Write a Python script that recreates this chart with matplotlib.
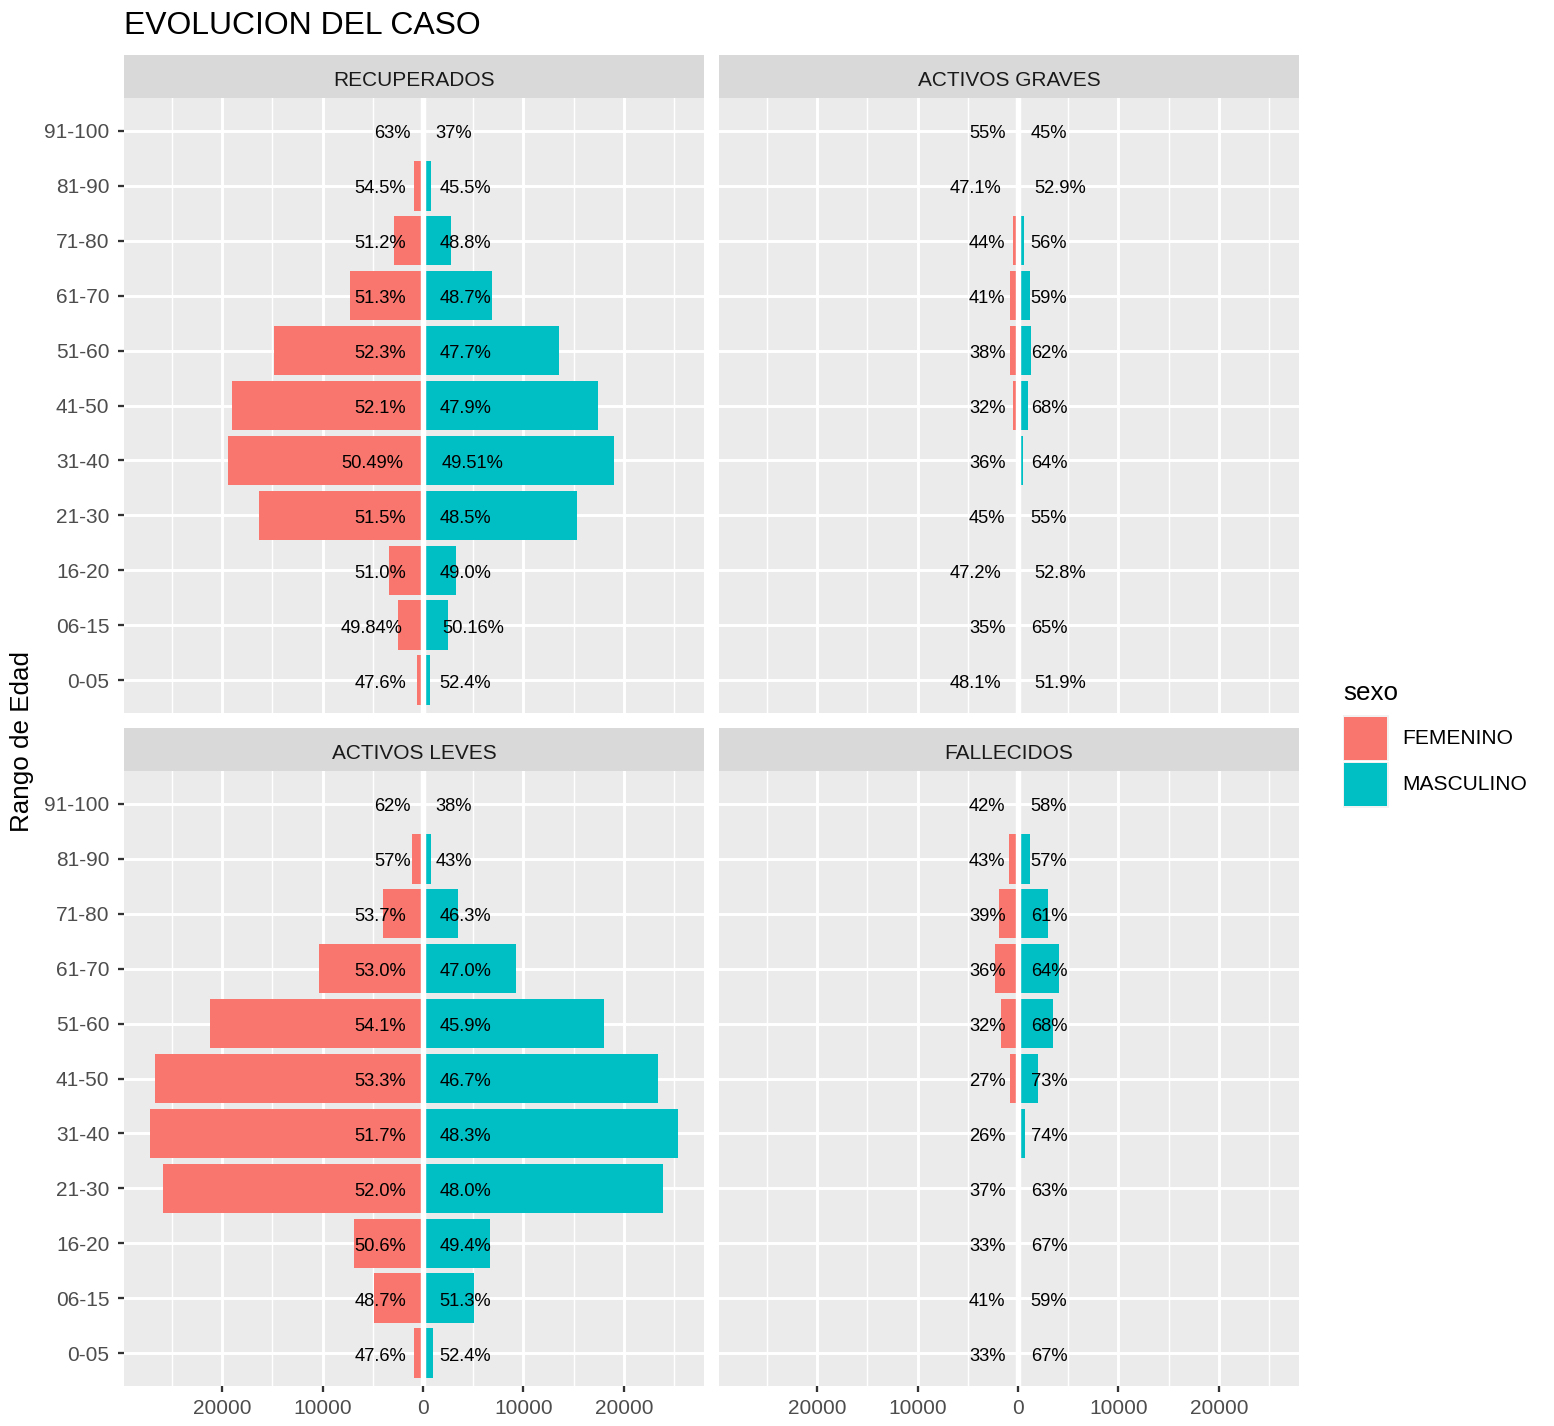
import matplotlib
matplotlib.use("Agg")
import matplotlib.pyplot as plt
from matplotlib.patches import Rectangle
from matplotlib.transforms import offset_copy

plt.rcParams['font.family'] = ['Liberation Sans', 'DejaVu Sans']

# age groups, bottom to top
edades = ["0-05", "06-15", "16-20", "21-30", "31-40", "41-50",
          "51-60", "61-70", "71-80", "81-90", "91-100"]

rec_fem = [600, 2460, 3380, 16300, 19400, 19000, 14800, 7250, 2900, 920, 100]
rec_mas = [660, 2480, 3250, 15350, 19020, 17470, 13500, 6880, 2760, 770, 59]
rec_pct_fem = ["47.6%", "49.84%", "51.0%", "51.5%", "50.49%", "52.1%", "52.3%", "51.3%", "51.2%", "54.5%", "63%"]
rec_pct_mas = ["52.4%", "50.16%", "49.0%", "48.5%", "49.51%", "47.9%", "47.7%", "48.7%", "48.8%", "45.5%", "37%"]

gra_fem = [13, 7, 25, 90, 230, 470, 800, 820, 470, 160, 22]
gra_mas = [14, 13, 28, 110, 540, 1000, 1310, 1180, 600, 180, 18]
gra_pct_fem = ["48.1%", "35%", "47.2%", "45%", "36%", "32%", "38%", "41%", "44%", "47.1%", "55%"]
gra_pct_mas = ["51.9%", "65%", "52.8%", "55%", "64%", "68%", "62%", "59%", "56%", "52.9%", "45%"]

lev_fem = [900, 4850, 6850, 25850, 27150, 26700, 21200, 10400, 4000, 1100, 160]
lev_mas = [990, 5110, 6690, 23860, 25360, 23390, 17990, 9220, 3450, 830, 98]
lev_pct_fem = ["47.6%", "48.7%", "50.6%", "52.0%", "51.7%", "53.3%", "54.1%", "53.0%", "53.7%", "57%", "62%"]
lev_pct_mas = ["52.4%", "51.3%", "49.4%", "48.0%", "48.3%", "46.7%", "45.9%", "47.0%", "46.3%", "43%", "38%"]

fal_fem = [10, 7, 20, 100, 240, 750, 1650, 2300, 1880, 900, 130]
fal_mas = [20, 10, 40, 170, 740, 2030, 3500, 4100, 2940, 1190, 180]
fal_pct_fem = ["33%", "41%", "33%", "37%", "26%", "27%", "32%", "36%", "39%", "43%", "42%"]
fal_pct_mas = ["67%", "59%", "67%", "63%", "74%", "73%", "68%", "64%", "61%", "57%", "58%"]

paneles = [
    ("RECUPERADOS", rec_fem, rec_mas, rec_pct_fem, rec_pct_mas),
    ("ACTIVOS GRAVES", gra_fem, gra_mas, gra_pct_fem, gra_pct_mas),
    ("ACTIVOS LEVES", lev_fem, lev_mas, lev_pct_fem, lev_pct_mas),
    ("FALLECIDOS", fal_fem, fal_mas, fal_pct_fem, fal_pct_mas),
]

COL_F = "#F8766D"
COL_M = "#00BFC4"

W, H = 1554, 1426
DPI = 150
fig = plt.figure(figsize=(W / DPI, H / DPI), dpi=DPI)


def box(x0, y0, x1, y1):
    return [x0 / W, 1 - y1 / H, (x1 - x0) / W, (y1 - y0) / H]


# shared x scale like facet_wrap default
lo = -max(max(p[1]) for p in paneles)
hi = max(max(p[2]) for p in paneles)
pad = 0.05 * (hi - lo)
xlim = (lo - pad, hi + pad)

xs = [(124, 704), (719, 1299)]
ys = [(55, 98, 713), (728, 771, 1386)]

etiquetas = []
for k, (nombre, fem, mas, pf, pm) in enumerate(paneles):
    col, row = k % 2, k // 2
    x0, x1 = xs[col]
    s0, p0, p1 = ys[row]

    ax = fig.add_axes(box(x0, p0, x1, p1))
    ax.set_facecolor("#EBEBEB")
    for sp in ax.spines.values():
        sp.set_visible(False)
    pos = list(range(len(edades)))
    ax.barh(pos, [-v for v in fem], height=0.9, color=COL_F, zorder=2)
    ax.barh(pos, mas, height=0.9, color=COL_M, zorder=2)
    ax.axvline(0, color="white", lw=2.6, zorder=2.5)

    ax.set_xlim(*xlim)
    ax.set_ylim(-0.6, len(edades) - 0.4)
    ax.set_xticks([-20000, -10000, 0, 10000, 20000])
    ax.set_xticklabels(["20000", "10000", "0", "10000", "20000"])
    ax.set_xticks([-25000, -15000, -5000, 5000, 15000, 25000], minor=True)
    ax.set_yticks(pos)
    ax.set_yticklabels(edades)
    ax.grid(True, which="major", color="white", lw=1.42)
    ax.grid(True, which="minor", axis="x", color="white", lw=0.71)
    ax.set_axisbelow(True)
    ax.tick_params(which="minor", length=0)
    ax.tick_params(which="major", length=2.75, width=1.1, color="#333333",
                   labelsize=10, labelcolor="#4D4D4D")
    ax.tick_params(axis="y", pad=4.3)
    ax.tick_params(axis="x", pad=3.3)
    if col == 1:
        ax.tick_params(axis="y", left=False, labelleft=False)
    if row == 0:
        ax.tick_params(axis="x", bottom=False, labelbottom=False)

    for i in pos:
        t = ax.text(-150, i, pf[i], ha="right", va="center_baseline",
                    fontsize=8.8, color="black", zorder=3)
        etiquetas.append((ax, t, -0.3))
        t = ax.text(350, i, pm[i], ha="left", va="center_baseline",
                    fontsize=8.8, color="black", zorder=3)
        etiquetas.append((ax, t, 0.25))

    sax = fig.add_axes(box(x0, s0, x1, p0))
    sax.set_facecolor("#D9D9D9")
    sax.set_xticks([])
    sax.set_yticks([])
    for sp in sax.spines.values():
        sp.set_visible(False)
    sax.text(0.5, 0.46, nombre, ha="center", va="center_baseline", fontsize=10,
             color="#1A1A1A", transform=sax.transAxes)

fig.text(124 / W, 1 - 34.3 / H, "EVOLUCION DEL CASO", fontsize=15.3,
         ha="left", va="baseline")
fig.text(22.5 / W, 1 - 742 / H, "Rango de Edad", rotation=90, fontsize=12.5,
         ha="center", va="center")

# legend
fig.text(1343 / W, 1 - 700 / H, "sexo", fontsize=12.5, ha="left", va="baseline")
for j, (lab, c) in enumerate([("FEMENINO", COL_F), ("MASCULINO", COL_M)]):
    top = 715.5 + j * 46
    fig.add_artist(Rectangle((1342.5 / W, 1 - (top + 46) / H), 46 / W, 46 / H,
                             transform=fig.transFigure, facecolor="#F2F2F2",
                             edgecolor="none"))
    fig.add_artist(Rectangle((1344 / W, 1 - (top + 44.5) / H), 43 / W, 43 / H,
                             transform=fig.transFigure, facecolor=c,
                             edgecolor="none"))
    fig.text(1402 / W, 1 - (top + 23) / H, lab, fontsize=10.1, ha="left",
             va="center")

# ggplot-like hjust beyond 0..1 for the percentage labels
fig.canvas.draw()
r = fig.canvas.get_renderer()
for ax, t, f in etiquetas:
    w = t.get_window_extent(r).width
    t.set_transform(offset_copy(ax.transData, fig=fig, x=f * w, y=-1,
                                units="dots"))

fig.savefig("out.png", dpi=DPI)
